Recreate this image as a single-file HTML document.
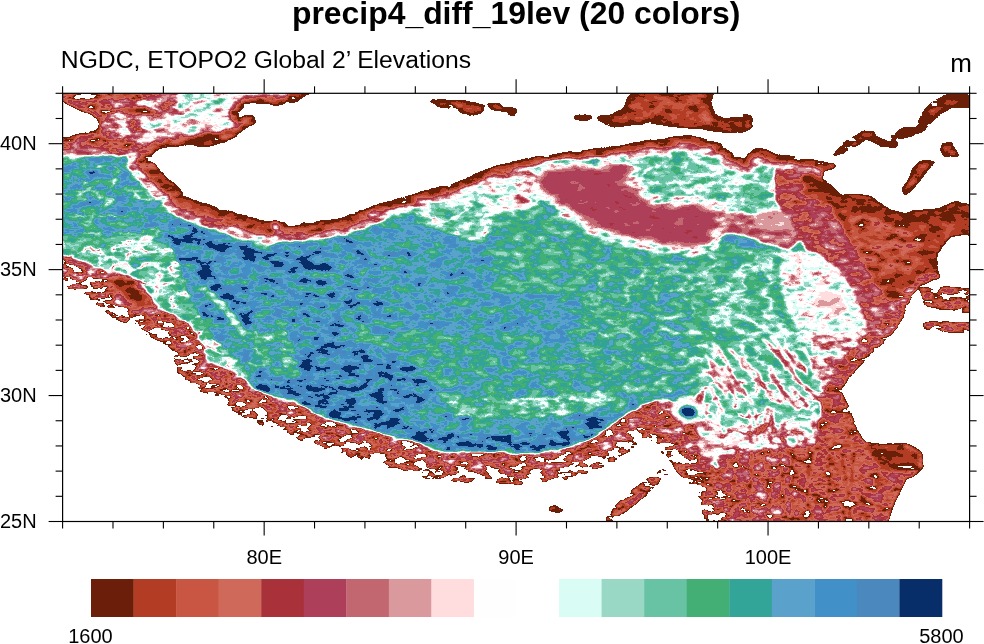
<!DOCTYPE html>
<html><head><meta charset="utf-8"><style>
html,body{margin:0;padding:0;background:#fff;width:984px;height:644px;overflow:hidden}
svg{display:block}
text{font-family:"Liberation Sans",Arial,Helvetica,sans-serif;fill:#000}
</style></head><body>
<svg width="984" height="644" viewBox="0 0 984 644">
<rect width="984" height="644" fill="#fff"/>
<text x="516.2" y="24" text-anchor="middle" font-weight="bold" font-size="31.9">precip4_diff_19lev (20 colors)</text>
<text x="60.8" y="67.8" font-size="24.7">NGDC, ETOPO2 Global 2’ Elevations</text>
<text x="972" y="72.4" text-anchor="end" font-size="26">m</text>
<svg x="62.6" y="93.3" width="907.0" height="428.2" viewBox="62.6 93.3 907.0 428.2" overflow="hidden">
<filter id="terrain" x="30" y="70" width="970" height="470" filterUnits="userSpaceOnUse" color-interpolation-filters="sRGB">
<feGaussianBlur in="SourceGraphic" stdDeviation="1.8" result="src"/>
<feTurbulence type="fractalNoise" baseFrequency="0.07 0.14" numOctaves="3" seed="7" result="t1"/>
<feColorMatrix in="t1" type="matrix" values="0 0 0 0 0  1 0 0 0 0  0 0 0 0 0  0 0 0 0 1" result="nG"/>
<feTurbulence type="turbulence" baseFrequency="0.035 0.06" numOctaves="3" seed="3" result="t2"/>
<feColorMatrix in="t2" type="matrix" values="0 0 0 0 0  0 0 0 0 0  1 0 0 0 0  0 0 0 0 1" result="t2b"/>
<feComponentTransfer in="t2b" result="nB"><feFuncB type="table" tableValues="0.000 0.179 0.357 0.536 0.714 0.893 1.000 1.000 1.000 1.000 1.000 1.000 1.000 1.000 1.000 1.000 1.000 1.000 1.000 1.000 1.000"/></feComponentTransfer>
<feComposite in="nG" in2="nB" operator="arithmetic" k1="0" k2="1" k3="1" k4="0" result="nGB"/>
<feComposite in="src" in2="nGB" operator="arithmetic" k1="1" k2="0" k3="0" k4="0" result="an"/>
<feColorMatrix in="an" type="matrix" values="0 0.25 0.25 0 0  0 0 0 0 0  0 0 0 0 0  0 0 0 0 1" result="anR"/>
<feColorMatrix in="src" type="matrix" values="0.25 -0.125 -0.25 0 0.375  0 0 0 0 0  0 0 0 0 0  0 0 0 0 1" result="base"/>
<feComposite in="base" in2="anR" operator="arithmetic" k1="0" k2="4" k3="4" k4="-1.5" result="elev"/>
<feColorMatrix in="elev" type="matrix" values="1 0 0 0 0  1 0 0 0 0  1 0 0 0 0  0 0 0 0 1" result="gray"/>
<feComponentTransfer in="gray">
<feFuncR type="discrete" tableValues="1.0000 0.4196 0.7020 0.7843 0.8118 0.6627 0.6824 0.7608 0.8549 1.0000 0.9961 1.0000 0.8510 0.6039 0.4078 0.2627 0.2000 0.3529 0.2549 0.2902 0.0314"/>
<feFuncG type="discrete" tableValues="1.0000 0.1216 0.2392 0.3373 0.4157 0.1922 0.2471 0.4000 0.6000 0.8667 0.9961 1.0000 0.9922 0.8471 0.7647 0.6863 0.6431 0.6353 0.5647 0.5333 0.1804"/>
<feFuncB type="discrete" tableValues="1.0000 0.0392 0.1412 0.2588 0.3569 0.2275 0.3529 0.4392 0.6118 0.8745 0.9961 1.0000 0.9608 0.7765 0.6431 0.4549 0.5961 0.7961 0.7843 0.7451 0.4157"/>
<feFuncA type="discrete" tableValues="1"/>
</feComponentTransfer>
</filter>
<g filter="url(#terrain)">
<rect x="30" y="70" width="970" height="470" fill="rgb(214,97,18)"/>
<polygon points="160.0,215.0 200.0,215.0 290.0,232.0 370.0,240.0 390.0,300.0 350.0,380.0 300.0,395.0 250.0,330.0 200.0,320.0 170.0,290.0" fill="rgb(220,115,19)"/>
<polyline points="175.0,236.0 210.0,244.0 240.0,252.0 270.0,258.0 300.0,262.0 335.0,268.0" fill="none" stroke="rgb(243,115,13)" stroke-width="11" stroke-linejoin="round" stroke-linecap="round"/>
<polyline points="195.0,262.0 212.0,282.0 230.0,300.0 245.0,325.0 258.0,345.0 278.0,368.0 295.0,382.0 320.0,398.0" fill="none" stroke="rgb(243,115,13)" stroke-width="11" stroke-linejoin="round" stroke-linecap="round"/>
<polyline points="205.0,290.0 222.0,305.0 238.0,325.0 252.0,348.0 270.0,370.0" fill="none" stroke="rgb(163,128,26)" stroke-width="7" stroke-linejoin="round" stroke-linecap="round"/>
<polygon points="300.0,380.0 360.0,375.0 450.0,380.0 455.0,405.0 400.0,415.0 330.0,410.0" fill="rgb(233,115,19)"/>
<polygon points="415.0,200.0 470.0,180.0 525.0,160.0 535.0,200.0 525.0,240.0 470.0,240.0 415.0,222.0" fill="rgb(172,128,51)"/>
<polygon points="360.0,330.0 520.0,330.0 600.0,360.0 620.0,400.0 520.0,420.0 400.0,410.0 340.0,380.0" fill="rgb(204,102,19)"/>
<polygon points="300.0,335.0 360.0,345.0 420.0,368.0 440.0,400.0 400.0,418.0 300.0,412.0" fill="rgb(231,115,13)"/>
<polygon points="445.0,400.0 500.0,398.0 560.0,395.0 620.0,385.0 625.0,405.0 560.0,416.0 500.0,418.0 450.0,416.0" fill="rgb(185,115,51)"/>
<polygon points="492.0,215.0 540.0,205.0 600.0,225.0 700.0,245.0 760.0,250.0 760.0,300.0 600.0,300.0 492.0,290.0" fill="rgb(193,102,10)"/>
<polygon points="580.0,268.0 690.0,262.0 744.0,270.0 744.0,379.0 640.0,400.0 580.0,380.0" fill="rgb(198,89,38)"/>
<polygon points="690.0,250.0 790.0,250.0 815.0,300.0 820.0,380.0 815.0,450.0 750.0,450.0 690.0,400.0" fill="rgb(188,76,54)"/>
<polygon points="600.0,150.0 744.0,150.0 800.0,160.0 830.0,200.0 800.0,225.0 744.0,225.0 700.0,205.0 640.0,200.0 600.0,175.0" fill="rgb(177,102,51)"/>
<polygon points="470.0,178.0 517.0,160.0 545.0,165.0 545.0,200.0 517.0,215.0 480.0,205.0" fill="rgb(142,153,26)"/>
<polygon points="30.0,70.0 310.0,70.0 300.0,100.0 250.0,110.0 240.0,135.0 200.0,150.0 150.0,160.0 30.0,160.0" fill="rgb(79,204,0)"/>
<polygon points="30.0,70.0 180.0,70.0 180.0,100.0 140.0,105.0 110.0,112.0 100.0,125.0 105.0,140.0 140.0,140.0 145.0,152.0 30.0,158.0" fill="rgb(49,153,0)"/>
<polygon points="110.0,100.0 180.0,95.0 200.0,110.0 205.0,125.0 180.0,130.0 150.0,135.0 120.0,138.0 105.0,125.0" fill="rgb(91,230,0)"/>
<polygon points="140.0,118.0 200.0,114.0 230.0,118.0 235.0,128.0 205.0,135.0 175.0,140.0 145.0,140.0" fill="rgb(128,178,0)"/>
<polygon points="175.0,70.0 310.0,70.0 300.0,95.0 280.0,103.0 250.0,104.0 240.0,112.0 210.0,118.0 178.0,112.0" fill="rgb(146,178,0)"/>
<ellipse cx="138" cy="111" rx="20" ry="4" transform="rotate(5 138 111)" fill="rgb(30,76,0)"/>
<polygon points="30.0,148.0 110.0,148.0 110.0,157.0 30.0,160.0" fill="rgb(91,153,0)"/>
<polygon points="30.0,157.0 140.0,155.0 150.0,170.0 170.0,215.0 165.0,240.0 30.0,240.0" fill="rgb(209,107,51)"/>
<polygon points="30.0,236.0 140.0,236.0 135.0,260.0 130.0,280.0 30.0,280.0" fill="rgb(144,140,84)"/>
<polygon points="62.0,236.0 150.0,236.0 174.0,250.0 188.0,292.0 202.0,320.0 218.0,342.0 244.0,367.0 274.0,384.0 302.0,396.0 330.0,405.0 330.0,420.0 290.0,415.0 250.0,400.0 200.0,375.0 170.0,340.0 130.0,300.0 90.0,280.0 62.0,275.0" fill="rgb(183,102,84)"/>
<polygon points="245.0,330.0 290.0,330.0 300.0,379.0 250.0,379.0" fill="rgb(201,102,45)"/>
<polygon points="517.0,160.0 545.0,158.0 565.0,168.0 548.0,180.0 540.0,195.0 530.0,202.0 517.0,202.0" fill="rgb(109,204,0)"/>
<polygon points="775.0,160.0 975.0,160.0 975.0,300.0 930.0,330.0 890.0,380.0 860.0,400.0 850.0,340.0 830.0,290.0 800.0,240.0 775.0,200.0" fill="rgb(61,115,0)"/>
<polygon points="800.0,165.0 830.0,160.0 880.0,190.0 975.0,195.0 975.0,250.0 950.0,250.0 940.0,290.0 910.0,300.0 890.0,300.0 870.0,280.0 850.0,245.0 825.0,205.0 805.0,190.0" fill="rgb(29,56,0)"/>
<polygon points="850.0,215.0 900.0,222.0 925.0,245.0 915.0,268.0 880.0,275.0 850.0,255.0" fill="rgb(41,89,0)"/>
<polyline points="744.0,158.5 755.5,146.3 767.0,149.3 776.2,153.9 790.0,155.0 803.7,158.5 812.9,159.1 826.7,161.9 835.9,165.3 831.3,168.8 822.1,171.1" fill="none" stroke="rgb(24,31,0)" stroke-width="16" stroke-linejoin="round" stroke-linecap="round"/>
<polyline points="822.1,171.1 822.1,178.0 831.3,184.9 840.5,194.0 858.8,194.0 872.6,196.4 881.8,203.2 888.7,209.0 900.2,211.3 918.6,210.1 939.2,207.8 955.3,201.0 975.0,204.4" fill="none" stroke="rgb(24,31,0)" stroke-width="30" stroke-linejoin="round" stroke-linecap="round"/>
<polygon points="800.0,195.0 830.0,205.0 850.0,240.0 870.0,275.0 885.0,305.0 895.0,320.0 885.0,345.0 872.0,372.0 862.0,360.0 868.0,330.0 858.0,300.0 840.0,270.0 820.0,240.0 800.0,215.0" fill="rgb(76,128,0)"/>
<polygon points="780.0,250.0 815.0,252.0 840.0,270.0 858.0,300.0 868.0,330.0 862.0,355.0 835.0,352.0 805.0,340.0 790.0,315.0 780.0,285.0" fill="rgb(142,128,38)"/>
<ellipse cx="830" cy="302" rx="17" ry="11" transform="rotate(20 830 302)" fill="rgb(115,51,0)"/>
<polygon points="812.0,335.0 850.0,335.0 855.0,380.0 840.0,405.0 812.0,400.0" fill="rgb(117,178,38)"/>
<polyline points="930.0,290.0 905.0,315.0 885.0,340.0 860.0,365.0 845.0,385.0 838.0,405.0" fill="none" stroke="rgb(61,204,0)" stroke-width="34" stroke-linejoin="round" stroke-linecap="round"/>
<polygon points="700.0,379.0 822.0,379.0 816.0,420.0 700.0,425.0" fill="rgb(174,102,76)"/>
<polygon points="700.0,425.0 830.0,420.0 822.0,452.0 715.0,458.0" fill="rgb(137,153,76)"/>
<polygon points="718.0,455.0 760.0,450.0 815.0,445.0 822.0,400.0 830.0,379.0 845.0,379.0 850.0,410.0 855.0,425.0 864.0,443.0 880.0,445.0 905.0,444.0 921.0,452.0 922.0,468.0 912.0,476.0 904.0,478.0 900.0,489.0 893.0,503.0 886.0,530.0 716.0,530.0" fill="rgb(50,140,0)"/>
<polygon points="718.0,455.0 790.0,450.0 800.0,530.0 718.0,530.0" fill="rgb(74,178,38)"/>
<polyline points="781.0,424.0 783.2,430.8 781.9,437.6 784.9,443.0 787.8,449.0 788.3,453.3 789.2,458.0" fill="none" stroke="rgb(36,128,0)" stroke-width="1.6" stroke-linejoin="round" stroke-linecap="round"/>
<polyline points="728.2,368.5 731.5,374.8 734.8,381.2 737.6,387.1 742.7,391.1 745.0,395.7 752.4,402.7" fill="none" stroke="rgb(36,128,0)" stroke-width="1.6" stroke-linejoin="round" stroke-linecap="round"/>
<polyline points="770.1,416.3 772.1,423.2 775.1,430.1 775.1,435.0" fill="none" stroke="rgb(36,128,0)" stroke-width="1.6" stroke-linejoin="round" stroke-linecap="round"/>
<polyline points="708.5,371.2 712.6,375.2 715.6,380.2 720.7,386.6 724.6,391.6 727.2,397.7" fill="none" stroke="rgb(36,128,0)" stroke-width="1.6" stroke-linejoin="round" stroke-linecap="round"/>
<polyline points="797.5,436.4 797.8,442.7 796.2,448.5" fill="none" stroke="rgb(36,128,0)" stroke-width="1.6" stroke-linejoin="round" stroke-linecap="round"/>
<polyline points="824.2,358.6 831.8,365.4 835.1,370.4 841.0,376.0 845.7,380.3 852.6,386.7 858.1,390.8" fill="none" stroke="rgb(36,128,0)" stroke-width="1.6" stroke-linejoin="round" stroke-linecap="round"/>
<polyline points="779.4,445.2 780.6,451.9 780.5,456.9 779.0,461.4 780.7,465.9" fill="none" stroke="rgb(36,128,0)" stroke-width="1.6" stroke-linejoin="round" stroke-linecap="round"/>
<polyline points="706.3,453.4 705.8,458.6 708.3,464.4 708.7,469.8 711.4,473.9 712.0,478.0" fill="none" stroke="rgb(36,128,0)" stroke-width="1.6" stroke-linejoin="round" stroke-linecap="round"/>
<polyline points="795.1,449.0 794.1,455.3 793.1,460.6 793.1,467.2 796.4,472.5 799.8,479.1" fill="none" stroke="rgb(36,128,0)" stroke-width="1.6" stroke-linejoin="round" stroke-linecap="round"/>
<polyline points="794.8,392.5 793.8,397.7 797.1,402.8 798.7,409.7" fill="none" stroke="rgb(36,128,0)" stroke-width="1.6" stroke-linejoin="round" stroke-linecap="round"/>
<polyline points="711.6,367.7 716.2,374.3 722.6,380.6 728.3,386.7 732.7,393.0 736.5,399.1" fill="none" stroke="rgb(36,128,0)" stroke-width="1.6" stroke-linejoin="round" stroke-linecap="round"/>
<polyline points="789.8,370.3 795.0,376.2 798.4,380.2 803.1,385.0 809.0,390.4 815.2,396.3 820.0,401.4 826.6,407.6" fill="none" stroke="rgb(36,128,0)" stroke-width="1.6" stroke-linejoin="round" stroke-linecap="round"/>
<polyline points="813.1,417.6 814.2,424.5 813.4,430.1 816.5,436.6 818.3,442.0 820.4,448.2 822.5,452.7" fill="none" stroke="rgb(36,128,0)" stroke-width="1.6" stroke-linejoin="round" stroke-linecap="round"/>
<polyline points="754.7,409.8 756.7,415.8 755.6,419.8 757.2,425.2 758.8,429.8 757.4,435.7 756.8,441.1" fill="none" stroke="rgb(36,128,0)" stroke-width="1.6" stroke-linejoin="round" stroke-linecap="round"/>
<polyline points="741.3,356.8 744.4,360.9 749.0,366.0 752.3,371.8" fill="none" stroke="rgb(36,128,0)" stroke-width="1.6" stroke-linejoin="round" stroke-linecap="round"/>
<polyline points="752.7,368.4 757.8,372.8 759.6,377.9 762.3,383.7 766.0,389.4" fill="none" stroke="rgb(36,128,0)" stroke-width="1.6" stroke-linejoin="round" stroke-linecap="round"/>
<polyline points="806.4,385.3 810.5,391.2 814.5,395.6 821.4,401.3 827.4,408.2 833.4,413.3 834.7,417.3" fill="none" stroke="rgb(36,128,0)" stroke-width="1.6" stroke-linejoin="round" stroke-linecap="round"/>
<polyline points="718.3,410.5 718.7,415.7 718.4,420.3 718.8,427.3 721.9,434.1 721.6,439.9 722.6,446.9" fill="none" stroke="rgb(36,128,0)" stroke-width="1.6" stroke-linejoin="round" stroke-linecap="round"/>
<polyline points="828.0,394.0 826.9,399.4 827.5,405.3 829.6,410.2" fill="none" stroke="rgb(36,128,0)" stroke-width="1.6" stroke-linejoin="round" stroke-linecap="round"/>
<polyline points="769.2,367.9 773.0,374.2 775.2,379.0 779.7,386.0 784.2,391.8 789.5,397.7 792.6,404.0" fill="none" stroke="rgb(36,128,0)" stroke-width="1.6" stroke-linejoin="round" stroke-linecap="round"/>
<polyline points="769.4,375.3 773.6,380.9 778.9,386.0 781.2,391.8 784.8,396.5" fill="none" stroke="rgb(36,128,0)" stroke-width="1.6" stroke-linejoin="round" stroke-linecap="round"/>
<polyline points="770.9,336.7 775.5,342.0 781.1,348.2 787.5,353.6 791.1,358.8 794.8,365.3 800.4,370.2" fill="none" stroke="rgb(36,128,0)" stroke-width="1.6" stroke-linejoin="round" stroke-linecap="round"/>
<polyline points="790.3,386.9 797.4,393.3 800.9,397.7 805.4,403.4 807.6,408.3" fill="none" stroke="rgb(36,128,0)" stroke-width="1.6" stroke-linejoin="round" stroke-linecap="round"/>
<polyline points="708.9,362.6 714.8,369.0 719.2,373.1 727.2,380.0 729.9,386.1 733.7,392.6" fill="none" stroke="rgb(36,128,0)" stroke-width="1.6" stroke-linejoin="round" stroke-linecap="round"/>
<polyline points="792.6,351.2 796.3,357.9 800.5,363.7 804.7,368.2 806.0,372.4" fill="none" stroke="rgb(36,128,0)" stroke-width="1.6" stroke-linejoin="round" stroke-linecap="round"/>
<polyline points="707.5,404.0 706.6,410.7 706.5,416.0 707.3,421.8 707.7,428.6 709.3,432.7 710.7,437.2" fill="none" stroke="rgb(36,128,0)" stroke-width="1.6" stroke-linejoin="round" stroke-linecap="round"/>
<polyline points="772.1,409.5 771.8,415.2 772.8,421.4 772.1,425.8 774.1,430.9" fill="none" stroke="rgb(36,128,0)" stroke-width="1.6" stroke-linejoin="round" stroke-linecap="round"/>
<polyline points="785.2,345.2 786.7,349.5 790.0,355.3 795.2,361.9 800.7,366.9 805.1,371.0 806.7,375.1" fill="none" stroke="rgb(36,128,0)" stroke-width="1.6" stroke-linejoin="round" stroke-linecap="round"/>
<polyline points="729.0,348.9 735.4,354.9 739.6,359.3 742.3,364.4 746.9,369.4 750.3,374.5 755.5,378.9 761.8,384.8" fill="none" stroke="rgb(36,128,0)" stroke-width="1.6" stroke-linejoin="round" stroke-linecap="round"/>
<polyline points="767.3,406.1 767.7,412.3 766.0,416.6 764.4,421.2 765.3,427.9 763.7,434.2" fill="none" stroke="rgb(36,128,0)" stroke-width="1.6" stroke-linejoin="round" stroke-linecap="round"/>
<polyline points="780.5,386.4 782.2,390.7 785.2,395.2 791.2,400.4 793.6,404.8 795.7,409.7" fill="none" stroke="rgb(36,128,0)" stroke-width="1.6" stroke-linejoin="round" stroke-linecap="round"/>
<polyline points="762.7,338.9 768.9,344.0 774.7,350.0 781.2,355.4 785.5,359.8 790.3,364.7 793.6,370.9 794.9,375.5" fill="none" stroke="rgb(36,128,0)" stroke-width="1.6" stroke-linejoin="round" stroke-linecap="round"/>
<polyline points="752.1,451.8 752.7,456.8 754.6,461.6 753.8,467.8 755.4,472.5" fill="none" stroke="rgb(36,128,0)" stroke-width="1.6" stroke-linejoin="round" stroke-linecap="round"/>
<polyline points="756.0,452.1 758.0,456.2 756.5,461.5 759.8,467.1" fill="none" stroke="rgb(36,128,0)" stroke-width="1.6" stroke-linejoin="round" stroke-linecap="round"/>
<polyline points="712.2,343.5 718.8,349.0 720.8,353.2 723.6,357.3 725.7,361.5 728.9,366.7 729.9,370.9 733.9,377.8" fill="none" stroke="rgb(36,128,0)" stroke-width="1.6" stroke-linejoin="round" stroke-linecap="round"/>
<polyline points="769.1,345.1 772.7,349.4 778.6,356.2 782.5,362.8 785.9,366.8" fill="none" stroke="rgb(36,128,0)" stroke-width="1.6" stroke-linejoin="round" stroke-linecap="round"/>
<polyline points="749.0,410.0 749.0,416.8 751.4,422.1 750.2,426.8 748.9,431.7 751.4,438.0 750.3,443.0" fill="none" stroke="rgb(36,128,0)" stroke-width="1.6" stroke-linejoin="round" stroke-linecap="round"/>
<polyline points="711.0,386.4 712.6,391.2 715.2,397.3 717.8,401.9 719.9,407.0 723.2,412.3" fill="none" stroke="rgb(36,128,0)" stroke-width="1.6" stroke-linejoin="round" stroke-linecap="round"/>
<polyline points="816.5,413.5 817.1,419.2 818.8,425.7 821.0,432.5 820.7,438.6 821.1,445.1" fill="none" stroke="rgb(36,128,0)" stroke-width="1.6" stroke-linejoin="round" stroke-linecap="round"/>
<polyline points="722.0,366.5 723.7,371.4 729.0,377.7 730.1,381.7 732.9,386.1 740.4,392.7" fill="none" stroke="rgb(36,128,0)" stroke-width="1.6" stroke-linejoin="round" stroke-linecap="round"/>
<polyline points="755.8,378.5 759.4,382.5 765.7,389.0 769.3,393.3 774.0,397.8" fill="none" stroke="rgb(36,128,0)" stroke-width="1.6" stroke-linejoin="round" stroke-linecap="round"/>
<polyline points="803.3,349.2 808.5,355.9 812.5,361.2 819.7,367.5" fill="none" stroke="rgb(36,128,0)" stroke-width="1.6" stroke-linejoin="round" stroke-linecap="round"/>
<polyline points="777.5,347.4 779.5,352.7 782.7,359.6 787.2,365.4 791.9,372.0 794.5,376.6 798.5,381.2" fill="none" stroke="rgb(36,128,0)" stroke-width="1.6" stroke-linejoin="round" stroke-linecap="round"/>
<polyline points="731.4,377.2 738.7,384.2 744.5,390.7 746.9,395.9" fill="none" stroke="rgb(36,128,0)" stroke-width="1.6" stroke-linejoin="round" stroke-linecap="round"/>
<polyline points="704.9,355.3 711.8,361.5 717.0,366.1 721.9,371.1" fill="none" stroke="rgb(36,128,0)" stroke-width="1.6" stroke-linejoin="round" stroke-linecap="round"/>
<polyline points="737.4,447.5 737.5,455.6 735.6,467.1 734.5,477.4 733.4,485.6 733.2,495.9 732.6,508.1 734.5,522.0" fill="none" stroke="rgb(11,76,0)" stroke-width="2.2" stroke-linejoin="round" stroke-linecap="round"/>
<polyline points="751.4,450.7 750.5,463.5 751.6,475.1 750.3,486.2 747.8,494.7 748.3,504.8 749.6,517.4" fill="none" stroke="rgb(11,76,0)" stroke-width="2.2" stroke-linejoin="round" stroke-linecap="round"/>
<polyline points="763.2,454.3 764.7,462.8 767.5,474.8 768.6,488.2 770.0,501.2 768.3,512.9 770.6,524.0" fill="none" stroke="rgb(11,76,0)" stroke-width="2.2" stroke-linejoin="round" stroke-linecap="round"/>
<polyline points="780.4,447.9 779.7,455.9 780.6,465.0 783.1,478.4 782.4,490.0 783.5,498.7 784.8,510.0 787.1,520.3" fill="none" stroke="rgb(11,76,0)" stroke-width="2.2" stroke-linejoin="round" stroke-linecap="round"/>
<polyline points="793.1,452.4 791.1,465.8 792.7,477.6 790.1,487.0 792.1,498.4 793.5,511.6 793.0,522.1" fill="none" stroke="rgb(11,76,0)" stroke-width="2.2" stroke-linejoin="round" stroke-linecap="round"/>
<polyline points="808.4,445.6 811.2,457.2 808.4,466.4 808.8,475.1 806.9,486.7 807.4,495.8 808.6,507.7 806.0,520.1" fill="none" stroke="rgb(11,76,0)" stroke-width="2.2" stroke-linejoin="round" stroke-linecap="round"/>
<polyline points="828.7,446.4 829.5,459.5 827.9,473.0 829.9,485.2 827.6,496.1 825.5,505.2 823.4,513.8" fill="none" stroke="rgb(11,76,0)" stroke-width="2.2" stroke-linejoin="round" stroke-linecap="round"/>
<polyline points="842.1,454.7 843.9,467.6 846.4,479.9 847.2,493.6 844.8,507.4 842.2,516.1" fill="none" stroke="rgb(11,76,0)" stroke-width="2.2" stroke-linejoin="round" stroke-linecap="round"/>
<polyline points="854.7,453.6 852.2,466.1 852.4,476.5 850.1,486.7 849.4,498.3 849.4,510.4 852.0,524.2" fill="none" stroke="rgb(11,76,0)" stroke-width="2.2" stroke-linejoin="round" stroke-linecap="round"/>
<polygon points="690.0,420.0 712.0,418.0 722.0,440.0 718.0,462.0 700.0,462.0 690.0,440.0" fill="rgb(121,153,0)"/>
<polyline points="150.0,160.0 160.0,170.0 169.0,179.0 178.0,186.0 185.0,195.0 201.0,202.0 224.0,209.0 247.0,216.0 270.0,222.0" fill="none" stroke="rgb(109,178,0)" stroke-width="46" stroke-linejoin="round" stroke-linecap="round"/>
<polyline points="150.0,160.0 160.0,170.0 169.0,179.0 178.0,186.0 185.0,195.0 201.0,202.0 224.0,209.0 247.0,216.0 270.0,222.0" fill="none" stroke="rgb(55,128,0)" stroke-width="30" stroke-linejoin="round" stroke-linecap="round"/>
<polyline points="150.0,160.0 160.0,170.0 169.0,179.0 178.0,186.0 185.0,195.0 201.0,202.0 224.0,209.0 247.0,216.0 270.0,222.0 290.0,223.5" fill="none" stroke="rgb(33,64,0)" stroke-width="22" stroke-linejoin="round" stroke-linecap="round"/>
<polyline points="150.0,160.0 160.0,170.0 169.0,179.0 178.0,186.0 185.0,195.0 201.0,202.0 224.0,209.0 247.0,216.0 270.0,222.0 290.0,223.5" fill="none" stroke="rgb(21,38,0)" stroke-width="9" stroke-linejoin="round" stroke-linecap="round"/>
<polyline points="290.0,223.5 318.0,221.0 341.0,217.6 359.0,210.6 378.0,203.7" fill="none" stroke="rgb(97,178,0)" stroke-width="36" stroke-linejoin="round" stroke-linecap="round"/>
<polyline points="290.0,223.5 318.0,221.0 341.0,217.6 359.0,210.6 378.0,203.7" fill="none" stroke="rgb(40,76,0)" stroke-width="24" stroke-linejoin="round" stroke-linecap="round"/>
<polyline points="378.0,203.7 396.0,199.1 419.0,192.2 433.0,187.6 451.5,184.1 470.0,176.0 488.0,168.0 517.0,159.5 545.0,155.3 572.0,150.7 605.0,147.2 623.0,144.9 642.0,140.3 660.0,139.1 678.5,135.7 688.0,134.5 706.0,139.1 720.0,142.6 729.0,150.7 738.5,156.4 744.0,158.5 755.5,146.3 767.0,149.3 776.0,153.9 790.0,155.0 804.0,158.5 813.0,159.1 827.0,161.9" fill="none" stroke="rgb(103,178,0)" stroke-width="30" stroke-linejoin="round" stroke-linecap="round"/>
<polyline points="378.0,203.7 396.0,199.1 419.0,192.2 433.0,187.6 451.5,184.1 470.0,176.0 488.0,168.0 517.0,159.5 545.0,155.3 572.0,150.7 605.0,147.2 623.0,144.9 642.0,140.3 660.0,139.1 678.5,135.7 688.0,134.5 706.0,139.1 720.0,142.6 729.0,150.7 738.5,156.4 744.0,158.5 755.5,146.3 767.0,149.3 776.0,153.9 790.0,155.0 804.0,158.5 813.0,159.1 827.0,161.9" fill="none" stroke="rgb(38,76,0)" stroke-width="17" stroke-linejoin="round" stroke-linecap="round"/>
<polyline points="290.0,223.5 318.0,221.0 341.0,217.6 359.0,210.6 378.0,203.7 396.0,199.1 419.0,192.2 433.0,187.6 451.5,184.1 470.0,176.0 488.0,168.0 517.0,159.5 545.0,155.3 572.0,150.7 605.0,147.2 623.0,144.9 642.0,140.3 660.0,139.1 678.5,135.7 688.0,134.5 706.0,139.1 720.0,142.6 729.0,150.7 738.5,156.4 744.0,158.5 755.5,146.3 767.0,149.3 776.0,153.9 790.0,155.0 804.0,158.5 813.0,159.1 827.0,161.9" fill="none" stroke="rgb(21,38,0)" stroke-width="9" stroke-linejoin="round" stroke-linecap="round"/>
<polyline points="150.0,160.0 160.0,149.0 177.0,146.5 189.0,145.0 201.0,146.7 218.0,144.2 228.0,141.8 234.0,138.1 240.0,133.2 246.0,128.4 252.0,124.7 257.0,121.0 256.0,117.4 251.0,115.0 241.5,115.6 239.0,113.7 240.0,110.1 246.0,106.4 251.0,104.0 261.0,104.0 273.0,105.2 285.0,105.2 293.0,102.8 296.0,100.3 301.0,97.9 305.0,95.4 320.0,93.0" fill="none" stroke="rgb(49,128,0)" stroke-width="20" stroke-linejoin="round" stroke-linecap="round"/>
<polyline points="150.0,160.0 160.0,149.0 177.0,146.5 189.0,145.0 201.0,146.7 218.0,144.2 228.0,141.8 234.0,138.1 240.0,133.2 246.0,128.4 252.0,124.7 257.0,121.0 256.0,117.4 251.0,115.0 241.5,115.6 239.0,113.7 240.0,110.1 246.0,106.4 251.0,104.0 261.0,104.0 273.0,105.2 285.0,105.2 293.0,102.8 296.0,100.3 301.0,97.9 305.0,95.4 320.0,93.0" fill="none" stroke="rgb(21,51,0)" stroke-width="9" stroke-linejoin="round" stroke-linecap="round"/>
<ellipse cx="201" cy="139" rx="22" ry="5.5" transform="rotate(-14 201 139)" fill="rgb(22,38,0)"/>
<polyline points="257.5,380.8 278.2,389.3 300.7,394.1 320.3,406.6 343.8,414.4 371.3,421.2 393.8,427.9 419.0,433.2 435.5,442.0 452.9,443.3 474.5,443.3 498.7,443.3 517.0,445.0 537.6,443.4 556.9,441.7 572.2,435.6 584.6,431.6 596.3,425.5" fill="none" stroke="rgb(237,128,20)" stroke-width="20" stroke-linejoin="round" stroke-linecap="round"/>
<polyline points="62.0,275.4 76.0,278.9 92.0,285.8 106.0,297.4 120.0,307.8 138.5,317.1 159.0,328.7 175.5,338.0 185.0,351.8 188.0,365.8 192.0,375.0 201.0,379.0 224.0,388.3 247.0,406.8 270.0,416.1 290.0,420.0 308.5,432.0 336.0,441.3 364.0,448.2 387.0,455.1 410.0,459.7 428.0,469.0 451.5,471.3 474.5,471.3 497.6,471.3 517.0,473.0 540.0,471.3 563.0,469.0 581.6,462.0 595.4,457.4 609.0,450.5 623.0,441.3 637.0,429.8 646.0,427.4 660.0,434.4 674.0,448.2 683.0,459.7 692.0,471.3 702.0,480.0 712.0,500.0 717.0,525.0" fill="none" stroke="rgb(47,255,0)" stroke-width="38" stroke-linejoin="round" stroke-linecap="round"/>
<polygon points="590.0,452.0 620.0,425.0 640.0,406.0 665.0,398.0 690.0,412.0 700.0,440.0 680.0,450.0 650.0,430.0 630.0,435.0 610.0,450.0" fill="rgb(57,255,0)"/>
<ellipse cx="688" cy="410" rx="17" ry="14" transform="rotate(0 688 410)" fill="rgb(140,89,0)"/>
<ellipse cx="688" cy="412" rx="9" ry="6" transform="rotate(10 688 412)" fill="rgb(253,20,0)"/>
<ellipse cx="700" cy="398" rx="4" ry="5" transform="rotate(0 700 398)" fill="rgb(55,51,0)"/>
<ellipse cx="130" cy="292" rx="28" ry="13" transform="rotate(38 130 292)" fill="rgb(49,128,0)"/>
<ellipse cx="130" cy="292" rx="19" ry="6.5" transform="rotate(38 130 292)" fill="rgb(23,20,0)"/>
<polygon points="305.0,95.4 320.0,90.0 975.0,90.0 975.0,204.4 955.3,201.0 939.2,207.8 918.6,210.1 900.2,211.3 888.7,209.0 881.8,203.2 872.6,196.4 858.8,194.0 840.5,194.0 831.3,184.9 822.1,178.0 822.1,171.1 831.3,168.8 835.9,165.3 826.7,161.9 812.9,159.1 803.7,158.5 790.0,155.0 776.2,153.9 767.0,149.3 755.5,146.3 744.0,158.5 738.5,156.4 729.2,150.7 720.0,142.6 706.2,139.1 687.7,134.5 678.5,135.7 660.0,139.1 641.6,140.3 623.1,144.9 604.7,147.2 572.4,150.7 544.7,155.3 517.0,159.5 488.4,168.0 470.0,176.0 451.5,184.1 433.0,187.6 419.2,192.2 396.1,199.1 377.7,203.7 359.2,210.6 340.7,217.6 317.7,221.0 290.0,223.5 270.5,221.6 247.4,215.8 224.2,208.8 201.0,201.9 184.8,194.9 177.8,185.7 168.6,178.7 159.3,169.5 150.5,160.2 153.6,153.2 160.0,149.0 176.9,146.5 189.3,145.0 200.0,146.7 207.3,146.7 218.3,144.2 228.0,141.8 234.1,138.1 240.2,133.2 246.3,128.4 252.4,124.7 257.3,121.0 256.1,117.4 251.2,115.0 241.5,115.6 239.0,113.7 240.2,110.1 246.3,106.4 251.2,104.0 261.0,104.0 273.2,105.2 285.4,105.2 292.7,102.8 296.3,100.3 301.2,97.9" fill="rgb(0,0,0)"/>
<polygon points="30.0,275.4 62.0,275.4 75.9,278.9 92.1,285.8 106.0,297.4 119.9,307.8 138.5,317.1 159.3,328.7 175.5,338.0 184.8,351.8 188.3,365.8 191.7,375.0 201.0,379.0 224.2,388.3 247.4,406.8 270.5,416.1 290.0,420.0 308.5,432.0 336.1,441.3 363.8,448.2 386.9,455.1 410.0,459.7 428.4,469.0 451.5,471.3 474.5,471.3 497.6,471.3 517.0,473.0 540.0,471.3 563.1,469.0 581.6,462.0 595.4,457.4 609.3,450.5 623.1,441.3 637.0,429.8 646.2,427.4 660.0,434.4 673.9,448.2 683.1,459.7 692.3,471.3 702.0,480.0 712.0,500.0 717.0,530.0 30.0,530.0" fill="rgb(0,0,0)"/>
<polyline points="60.8,280.3 74.4,283.6 89.4,290.1 102.9,301.3 117.4,312.1 136.1,321.5 156.5,333.1 172.2,341.7 180.4,353.9 183.2,367.2 188.4,378.5 199.1,383.6 221.4,392.6 244.4,411.1 268.5,420.9 288.1,424.6 306.4,436.5 334.6,446.1 362.7,453.0 385.8,460.0 408.4,464.4 426.7,473.8 451.3,476.3 474.5,476.3 497.4,476.3 517.0,478.0 540.4,476.3 564.1,473.9 583.3,466.7 597.3,462.0 611.5,454.8 626.0,445.3 639.6,434.1 645.0,432.3 657.0,438.4 670.3,451.6 679.1,462.8 688.3,474.7 697.9,482.9 707.3,501.6 712.1,526.0" fill="none" stroke="rgb(15,255,0)" stroke-width="12" stroke-linejoin="round" stroke-linecap="round"/>
<polygon points="950.0,236.0 946.0,243.0 937.0,254.0 939.0,277.0 928.0,282.0 919.0,284.0 909.0,300.0 905.0,312.0 896.0,328.0 886.0,339.0 873.0,351.0 859.0,365.0 847.0,379.0 840.5,392.8 849.6,408.9 854.2,424.9 864.0,443.0 880.0,445.0 905.0,444.0 921.0,452.0 922.0,468.0 912.0,476.0 904.8,478.0 900.2,489.2 893.3,503.0 888.7,516.8 886.4,530.0 975.0,530.0 975.0,236.0" fill="rgb(0,0,0)"/>
<polygon points="866.0,447.0 900.0,446.0 918.0,452.0 920.0,467.0 905.0,472.0 880.0,468.0" fill="rgb(24,38,0)"/>
<polygon points="30.0,100.0 63.6,100.8 71.3,105.4 80.6,110.1 90.0,113.2 97.7,119.4 100.8,124.0 99.3,128.7 93.0,131.8 85.3,133.4 77.5,135.0 68.2,137.3 62.0,138.0 30.0,138.0" fill="rgb(0,0,0)"/>
<polygon points="74.0,95.0 85.0,94.0 93.0,96.0 90.0,99.0 78.0,99.5" fill="rgb(0,0,0)"/>
<polygon points="600.0,118.4 604.7,121.8 613.9,125.3 627.7,123.0 655.4,121.8 678.5,125.3 706.0,127.6 724.6,130.0 744.0,131.0 744.0,118.4 724.6,120.7 713.1,116.0 708.5,102.2 710.8,94.2 700.0,90.0 641.6,90.0 630.0,97.6 625.0,110.0 612.0,117.0" fill="rgb(34,64,0)" stroke="rgb(21,26,0)" stroke-width="6" stroke-linejoin="round"/>
<polygon points="574.7,117.0 582.0,115.5 590.8,117.0 588.0,119.5 576.0,119.5" fill="rgb(33,76,0)" stroke="rgb(18,26,0)" stroke-width="4" stroke-linejoin="round"/>
<polygon points="430.7,101.0 450.0,100.0 470.0,103.0 483.8,106.0 480.0,115.0 470.0,114.0 455.0,109.0 440.0,106.0" fill="rgb(33,76,0)" stroke="rgb(18,26,0)" stroke-width="4" stroke-linejoin="round"/>
<polygon points="488.0,103.0 500.0,104.0 516.0,110.0 514.0,115.0 505.0,113.0 490.0,107.0" fill="rgb(33,76,0)" stroke="rgb(18,26,0)" stroke-width="4" stroke-linejoin="round"/>
<polygon points="290.0,90.0 304.0,90.0 303.0,96.0 296.0,101.0 290.0,103.0" fill="rgb(33,76,0)" stroke="rgb(18,26,0)" stroke-width="4" stroke-linejoin="round"/>
<polygon points="946.1,97.6 966.8,96.4 969.0,104.5 950.7,106.8 939.2,111.4 927.7,122.9 920.8,129.7 909.4,134.3 900.2,137.8 893.3,136.6 904.8,129.7 918.6,127.5 923.1,116.0 932.3,104.5" fill="rgb(33,76,0)" stroke="rgb(18,26,0)" stroke-width="7" stroke-linejoin="round"/>
<polygon points="833.6,156.2 840.5,145.8 851.9,138.9 863.4,132.0 874.9,133.2 877.2,137.8 886.4,142.4 896.7,143.5 895.6,147.0 881.8,145.8 872.6,140.1 865.7,138.9 854.2,145.8 842.8,151.6" fill="rgb(33,76,0)" stroke="rgb(18,26,0)" stroke-width="4" stroke-linejoin="round"/>
<polygon points="943.0,144.0 950.0,142.4 955.0,150.0 957.6,156.0 945.0,157.3 941.5,150.0" fill="rgb(33,76,0)" stroke="rgb(18,26,0)" stroke-width="4" stroke-linejoin="round"/>
<polygon points="927.7,159.6 933.5,161.9 925.4,171.1 918.6,180.3 911.7,189.5 904.8,194.0 902.5,189.5 909.4,180.3 914.0,168.8 920.8,161.9" fill="rgb(33,76,0)" stroke="rgb(18,26,0)" stroke-width="4" stroke-linejoin="round"/>
<polygon points="744.0,114.8 751.0,117.0 751.0,128.0 744.0,129.7" fill="rgb(33,76,0)" stroke="rgb(18,26,0)" stroke-width="4" stroke-linejoin="round"/>
<polygon points="920.0,288.0 945.0,287.0 975.0,290.0 975.0,312.0 950.0,311.0 925.0,306.0" fill="rgb(36,204,0)"/>
<polygon points="923.0,323.0 950.0,322.0 975.0,324.0 975.0,333.0 950.0,332.0 925.0,331.0" fill="rgb(36,204,0)"/>
<polygon points="664.6,466.7 669.3,471.3 646.2,494.3 628.7,508.2 613.9,520.0 604.7,520.0 618.5,503.6 637.0,487.4 655.4,473.6" fill="rgb(42,204,0)"/>
<polygon points="548.0,505.4 560.0,504.5 566.6,508.0 562.0,512.8 550.0,512.5" fill="rgb(18,51,0)"/>
<polygon points="542.8,178.5 548.5,172.8 576.9,169.9 605.4,171.3 616.8,167.1 628.1,169.9 625.3,178.5 619.6,181.3 628.1,189.8 639.5,198.4 650.9,206.9 673.7,209.8 685.0,206.9 696.4,206.9 713.5,212.6 724.9,218.3 719.2,224.0 707.8,232.5 707.8,241.1 690.7,243.9 662.3,241.1 633.8,235.4 611.1,229.7 591.1,221.1 571.2,206.9 554.1,195.5 542.8,187.0" fill="rgb(146,204,0)" stroke="rgb(146,204,0)" stroke-width="24" stroke-linejoin="round"/>
<polygon points="542.8,178.5 548.5,172.8 576.9,169.9 605.4,171.3 616.8,167.1 628.1,169.9 625.3,178.5 619.6,181.3 628.1,189.8 639.5,198.4 650.9,206.9 673.7,209.8 685.0,206.9 696.4,206.9 713.5,212.6 724.9,218.3 719.2,224.0 707.8,232.5 707.8,241.1 690.7,243.9 662.3,241.1 633.8,235.4 611.1,229.7 591.1,221.1 571.2,206.9 554.1,195.5 542.8,187.0" fill="rgb(107,76,0)" stroke="rgb(107,76,0)" stroke-width="9" stroke-linejoin="round"/>
<polygon points="542.8,178.5 548.5,172.8 576.9,169.9 605.4,171.3 616.8,167.1 628.1,169.9 625.3,178.5 619.6,181.3 628.1,189.8 639.5,198.4 650.9,206.9 673.7,209.8 685.0,206.9 696.4,206.9 713.5,212.6 724.9,218.3 719.2,224.0 707.8,232.5 707.8,241.1 690.7,243.9 662.3,241.1 633.8,235.4 611.1,229.7 591.1,221.1 571.2,206.9 554.1,195.5 542.8,187.0" fill="rgb(91,51,0)" stroke="rgb(91,51,0)" stroke-width="5" stroke-linejoin="round"/>
<polygon points="542.8,178.5 548.5,172.8 576.9,169.9 605.4,171.3 616.8,167.1 628.1,169.9 625.3,178.5 619.6,181.3 628.1,189.8 639.5,198.4 650.9,206.9 673.7,209.8 685.0,206.9 696.4,206.9 713.5,212.6 724.9,218.3 719.2,224.0 707.8,232.5 707.8,241.1 690.7,243.9 662.3,241.1 633.8,235.4 611.1,229.7 591.1,221.1 571.2,206.9 554.1,195.5 542.8,187.0" fill="rgb(79,26,0)"/>
<polygon points="715.0,214.0 740.0,212.0 790.0,220.0 800.0,240.0 790.0,250.0 770.0,246.0 745.0,236.0 715.0,232.0" fill="rgb(94,102,0)"/>
<ellipse cx="773" cy="221" rx="20" ry="11" transform="rotate(5 773 221)" fill="rgb(103,38,0)"/>
</g>
</svg>
<g stroke="#000" stroke-width="1.2" fill="none">
<rect x="62.6" y="93.3" width="907.0" height="428.2"/>
</g>
<g stroke="#000" stroke-width="1.1">
<line x1="48.6" y1="521.5" x2="62.6" y2="521.5"/>
<line x1="969.6" y1="521.5" x2="983.6" y2="521.5"/>
<line x1="55.6" y1="496.31" x2="62.6" y2="496.31"/>
<line x1="969.6" y1="496.31" x2="976.6" y2="496.31"/>
<line x1="55.6" y1="471.12" x2="62.6" y2="471.12"/>
<line x1="969.6" y1="471.12" x2="976.6" y2="471.12"/>
<line x1="55.6" y1="445.94" x2="62.6" y2="445.94"/>
<line x1="969.6" y1="445.94" x2="976.6" y2="445.94"/>
<line x1="55.6" y1="420.75" x2="62.6" y2="420.75"/>
<line x1="969.6" y1="420.75" x2="976.6" y2="420.75"/>
<line x1="48.6" y1="395.56" x2="62.6" y2="395.56"/>
<line x1="969.6" y1="395.56" x2="983.6" y2="395.56"/>
<line x1="55.6" y1="370.37" x2="62.6" y2="370.37"/>
<line x1="969.6" y1="370.37" x2="976.6" y2="370.37"/>
<line x1="55.6" y1="345.18" x2="62.6" y2="345.18"/>
<line x1="969.6" y1="345.18" x2="976.6" y2="345.18"/>
<line x1="55.6" y1="319.99" x2="62.6" y2="319.99"/>
<line x1="969.6" y1="319.99" x2="976.6" y2="319.99"/>
<line x1="55.6" y1="294.81" x2="62.6" y2="294.81"/>
<line x1="969.6" y1="294.81" x2="976.6" y2="294.81"/>
<line x1="48.6" y1="269.62" x2="62.6" y2="269.62"/>
<line x1="969.6" y1="269.62" x2="983.6" y2="269.62"/>
<line x1="55.6" y1="244.43" x2="62.6" y2="244.43"/>
<line x1="969.6" y1="244.43" x2="976.6" y2="244.43"/>
<line x1="55.6" y1="219.24" x2="62.6" y2="219.24"/>
<line x1="969.6" y1="219.24" x2="976.6" y2="219.24"/>
<line x1="55.6" y1="194.05" x2="62.6" y2="194.05"/>
<line x1="969.6" y1="194.05" x2="976.6" y2="194.05"/>
<line x1="55.6" y1="168.86" x2="62.6" y2="168.86"/>
<line x1="969.6" y1="168.86" x2="976.6" y2="168.86"/>
<line x1="48.6" y1="143.68" x2="62.6" y2="143.68"/>
<line x1="969.6" y1="143.68" x2="983.6" y2="143.68"/>
<line x1="55.6" y1="118.49" x2="62.6" y2="118.49"/>
<line x1="969.6" y1="118.49" x2="976.6" y2="118.49"/>
<line x1="55.6" y1="93.3" x2="62.6" y2="93.3"/>
<line x1="969.6" y1="93.3" x2="976.6" y2="93.3"/>
<line x1="62.6" y1="86.3" x2="62.6" y2="93.3"/>
<line x1="62.6" y1="521.5" x2="62.6" y2="528.5"/>
<line x1="112.99" y1="86.3" x2="112.99" y2="93.3"/>
<line x1="112.99" y1="521.5" x2="112.99" y2="528.5"/>
<line x1="163.38" y1="86.3" x2="163.38" y2="93.3"/>
<line x1="163.38" y1="521.5" x2="163.38" y2="528.5"/>
<line x1="213.77" y1="86.3" x2="213.77" y2="93.3"/>
<line x1="213.77" y1="521.5" x2="213.77" y2="528.5"/>
<line x1="264.16" y1="79.3" x2="264.16" y2="93.3"/>
<line x1="264.16" y1="521.5" x2="264.16" y2="535.5"/>
<line x1="314.54" y1="86.3" x2="314.54" y2="93.3"/>
<line x1="314.54" y1="521.5" x2="314.54" y2="528.5"/>
<line x1="364.93" y1="86.3" x2="364.93" y2="93.3"/>
<line x1="364.93" y1="521.5" x2="364.93" y2="528.5"/>
<line x1="415.32" y1="86.3" x2="415.32" y2="93.3"/>
<line x1="415.32" y1="521.5" x2="415.32" y2="528.5"/>
<line x1="465.71" y1="86.3" x2="465.71" y2="93.3"/>
<line x1="465.71" y1="521.5" x2="465.71" y2="528.5"/>
<line x1="516.1" y1="79.3" x2="516.1" y2="93.3"/>
<line x1="516.1" y1="521.5" x2="516.1" y2="535.5"/>
<line x1="566.49" y1="86.3" x2="566.49" y2="93.3"/>
<line x1="566.49" y1="521.5" x2="566.49" y2="528.5"/>
<line x1="616.88" y1="86.3" x2="616.88" y2="93.3"/>
<line x1="616.88" y1="521.5" x2="616.88" y2="528.5"/>
<line x1="667.27" y1="86.3" x2="667.27" y2="93.3"/>
<line x1="667.27" y1="521.5" x2="667.27" y2="528.5"/>
<line x1="717.66" y1="86.3" x2="717.66" y2="93.3"/>
<line x1="717.66" y1="521.5" x2="717.66" y2="528.5"/>
<line x1="768.04" y1="79.3" x2="768.04" y2="93.3"/>
<line x1="768.04" y1="521.5" x2="768.04" y2="535.5"/>
<line x1="818.43" y1="86.3" x2="818.43" y2="93.3"/>
<line x1="818.43" y1="521.5" x2="818.43" y2="528.5"/>
<line x1="868.82" y1="86.3" x2="868.82" y2="93.3"/>
<line x1="868.82" y1="521.5" x2="868.82" y2="528.5"/>
<line x1="919.21" y1="86.3" x2="919.21" y2="93.3"/>
<line x1="919.21" y1="521.5" x2="919.21" y2="528.5"/>
<line x1="969.6" y1="86.3" x2="969.6" y2="93.3"/>
<line x1="969.6" y1="521.5" x2="969.6" y2="528.5"/>
</g>
<g font-size="20">
<text x="36.6" y="150.2" text-anchor="end">40N</text>
<text x="36.6" y="276.1" text-anchor="end">35N</text>
<text x="36.6" y="402.1" text-anchor="end">30N</text>
<text x="36.6" y="528.0" text-anchor="end">25N</text>
<text x="264.2" y="564.3" text-anchor="middle">80E</text>
<text x="516.1" y="564.3" text-anchor="middle">90E</text>
<text x="768.0" y="564.3" text-anchor="middle">100E</text>
</g>
<g font-size="20">
<rect x="91.00" y="579" width="42.85" height="38" fill="#6b1f0a"/>
<rect x="133.55" y="579" width="42.85" height="38" fill="#b33d24"/>
<rect x="176.10" y="579" width="42.85" height="38" fill="#c85642"/>
<rect x="218.65" y="579" width="42.85" height="38" fill="#cf6a5b"/>
<rect x="261.20" y="579" width="42.85" height="38" fill="#a9313a"/>
<rect x="303.75" y="579" width="42.85" height="38" fill="#ae3f5a"/>
<rect x="346.30" y="579" width="42.85" height="38" fill="#c26670"/>
<rect x="388.85" y="579" width="42.85" height="38" fill="#da999c"/>
<rect x="431.40" y="579" width="42.85" height="38" fill="#ffdddf"/>
<rect x="473.95" y="579" width="42.85" height="38" fill="#fefefe"/>
<rect x="516.50" y="579" width="42.85" height="38" fill="#ffffff"/>
<rect x="559.05" y="579" width="42.85" height="38" fill="#d9fdf5"/>
<rect x="601.60" y="579" width="42.85" height="38" fill="#9ad8c6"/>
<rect x="644.15" y="579" width="42.85" height="38" fill="#68c3a4"/>
<rect x="686.70" y="579" width="42.85" height="38" fill="#43af74"/>
<rect x="729.25" y="579" width="42.85" height="38" fill="#33a498"/>
<rect x="771.80" y="579" width="42.85" height="38" fill="#5aa2cb"/>
<rect x="814.35" y="579" width="42.85" height="38" fill="#4190c8"/>
<rect x="856.90" y="579" width="42.85" height="38" fill="#4a88be"/>
<rect x="899.45" y="579" width="42.85" height="38" fill="#082e6a"/>
<text x="90.5" y="642.6" text-anchor="middle">1600</text>
<text x="941.5" y="642.6" text-anchor="middle">5800</text>
</g>
</svg>
</body></html>
